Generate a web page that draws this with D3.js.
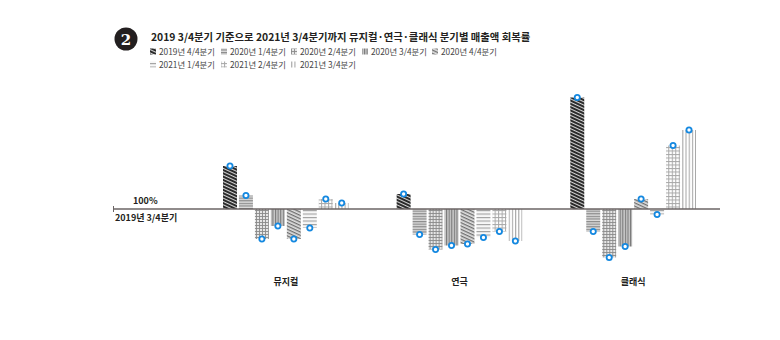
<!DOCTYPE html>
<html><head><meta charset="utf-8">
<script src="https://cdn.jsdelivr.net/npm/d3@7"></script>
<style>body{margin:0;background:#fff}svg{display:block}text{font-family:"Noto Sans CJK KR","Noto Sans",sans-serif}</style>
</head><body><svg id="c" width="780" height="340"></svg>
<script>
const categories = ["뮤지컬", "연극", "클래식"];
const seriesNames = ["2019년 4/4분기","2020년 1/4분기","2020년 2/4분기","2020년 3/4분기","2020년 4/4분기","2021년 1/4분기","2021년 2/4분기","2021년 3/4분기"];
// recovery rate (%) vs 2019 Q3 = 100%
const musical = [186, 127, 40, 66, 40, 62, 120, 112];
const theatre = [130, 49, 19, 27, 30, 43, 55, 36];
const classic = [323, 55, 3, 25, 120, 89, 227, 258];
const baseValue = 100;
const titleText = "2019 3/4분기 기준으로 2021년 3/4분기까지 뮤지컬·연극·클래식 분기별 매출액 회복률";
const baseLabel = "100%";
const baseQuarter = "2019년 3/4분기";

const values = [musical, theatre, classic];
const svg = d3.select("#c");
const defs = svg.append("defs");

function linePattern(id, bg, color, w, gap, angle, grid){
  const p = defs.append("pattern").attr("id", id).attr("patternUnits","userSpaceOnUse")
    .attr("width", gap).attr("height", gap);
  if (angle) p.attr("patternTransform", `rotate(${angle})`);
  p.append("rect").attr("width", gap).attr("height", gap).attr("fill", bg);
  p.append("rect").attr("x",0).attr("y",0).attr("width", gap).attr("height", w).attr("fill", color);
  if (grid) p.append("rect").attr("x",0).attr("y",0).attr("width", w).attr("height", gap).attr("fill", color);
}
function vPattern(id, bg, color, w, gap){
  const p = defs.append("pattern").attr("id", id).attr("patternUnits","userSpaceOnUse")
    .attr("width", gap).attr("height", gap);
  p.append("rect").attr("width", gap).attr("height", gap).attr("fill", bg);
  p.append("rect").attr("width", w).attr("height", gap).attr("fill", color);
}
linePattern("p0", "#ffffff", "#2b2b2b", 2.2, 3, 25);
linePattern("p1", "#dcdcdc", "#8a8a8a", 1.2, 2.6, 0);
linePattern("p2", "#e6e6e6", "#8a8a8a", 0.9, 3, 0, true);
vPattern("p3", "#c8c8c8", "#7a7a7a", 1.1, 2.6);
linePattern("p4", "#e0e0e0", "#6f6f6f", 1.3, 3, 25);
linePattern("p5", "#f7f7f7", "#a0a0a0", 1.1, 3.5, 0);
linePattern("p6", "#ffffff", "#a8a8a8", 1, 3.5, 0, true);
vPattern("p7", "#ffffff", "#a8a8a8", 1.1, 3.2);

const y = d3.scaleLinear().domain([0, 340]).range([259, 89]);
const x0 = d3.scaleBand().domain(categories).range([223, 696]).paddingInner(0.276).paddingOuter(0);
const x1 = d3.scaleBand().domain(seriesNames).range([0, x0.bandwidth()]).paddingInner(0.125).paddingOuter(0);

// title badge
svg.append("circle").attr("cx",126).attr("cy",39).attr("r",11.5).attr("fill","#231f20");
svg.append("text").attr("x",126).attr("y",44.5).attr("text-anchor","middle")
  .attr("fill","#fff").style("font-family","'DejaVu Serif',serif").attr("font-weight","bold")
  .attr("font-size",15).text("2");
const title = svg.append("text").attr("x",151).attr("y",41).attr("font-weight","bold")
  .attr("font-size",12.5).attr("fill","#231f20").text(titleText);
const tl = title.node().getComputedTextLength();
title.attr("font-size", 12.5 * 380 / tl);

// legend
const legPos = [[150,55],[221,55],[291,55],[362,55],[432,55],[150,68],[221,68],[291,68]];
const lg = svg.append("g");
seriesNames.forEach((s,i)=>{
  const [lx,ly] = legPos[i];
  lg.append("rect").attr("x",lx).attr("y",ly-6.5).attr("width",6).attr("height",6).attr("fill",`url(#p${i})`);
  const t = lg.append("text").attr("x",lx+9).attr("y",ly).attr("font-size",9).attr("fill","#444").text(s);
  const w = t.node().getComputedTextLength();
  t.attr("font-size", 9 * 56 / w);
});

// bars
const g = svg.append("g");
categories.forEach((c,ci)=>{
  const gg = g.append("g").attr("transform",`translate(${x0(c)},0)`);
  values[ci].forEach((v,i)=>{
    const yv = y(v), yb = y(baseValue);
    gg.append("rect").attr("x", x1(seriesNames[i])).attr("width", x1.bandwidth())
      .attr("y", Math.min(yv,yb)).attr("height", Math.abs(yv-yb))
      .attr("fill", `url(#p${i})`);
  });
});
// axis line
const yb = y(baseValue);
svg.append("line").attr("x1",113).attr("x2",720).attr("y1",yb).attr("y2",yb).attr("stroke","#6b6464").attr("stroke-width",1.5);
svg.append("line").attr("x1",113.5).attr("x2",113.5).attr("y1",yb-3).attr("y2",yb+3).attr("stroke","#6b6464").attr("stroke-width",1);
svg.append("text").attr("x",133).attr("y",yb-5).attr("font-size",9).attr("font-weight","bold").attr("fill","#231f20").text(baseLabel);
svg.append("text").attr("x",115).attr("y",yb+12).attr("font-size",9).attr("font-weight","bold").attr("fill","#231f20").text(baseQuarter);

// dots
categories.forEach((c,ci)=>{
  values[ci].forEach((v,i)=>{
    svg.append("circle").attr("cx", x0(c)+x1(seriesNames[i])+x1.bandwidth()/2).attr("cy", y(v))
      .attr("r",2.6).attr("fill","#fff").attr("stroke","#1488e0").attr("stroke-width",1.8);
  });
});

// category labels
categories.forEach(c=>{
  svg.append("text").attr("x", x0(c)+x0.bandwidth()/2).attr("y",285).attr("text-anchor","middle")
    .attr("font-size",9).attr("font-weight","bold").attr("fill","#231f20").text(c);
});
</script></body></html>
